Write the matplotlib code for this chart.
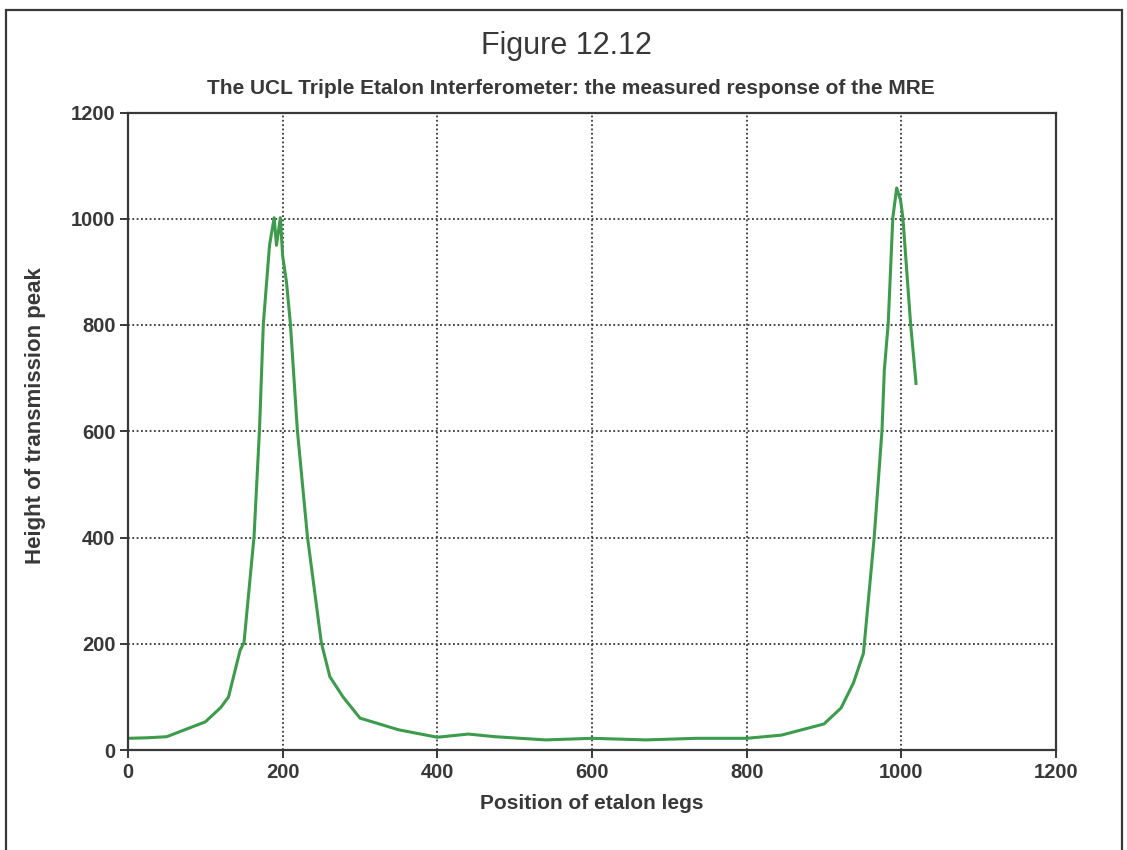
import matplotlib
matplotlib.use("Agg")
import matplotlib.pyplot as plt
from matplotlib.patches import Rectangle

# Measured transmission-peak height versus etalon leg position
position = [0, 25, 50, 100, 120, 130, 145, 150, 163, 170, 175, 183, 189, 192,
            197, 200, 205, 210, 219, 232, 250, 261, 278, 300, 350, 400, 440,
            475, 540, 600, 670, 735, 800, 845, 900, 922, 938, 951, 965, 975,
            978, 983, 989, 994, 999, 1002, 1012, 1019]
height = [22, 23, 25, 53, 80, 100, 188, 202, 402, 602, 802, 950, 1002, 950,
          1002, 930, 880, 802, 602, 402, 202, 138, 100, 60, 38, 24, 30,
          25, 19, 22, 19, 22, 22, 28, 49, 79, 126, 182, 402, 602,
          715, 802, 1002, 1058, 1035, 1002, 802, 690]

x_ticks = [0, 200, 400, 600, 800, 1000, 1200]
y_ticks = [0, 200, 400, 600, 800, 1000, 1200]

INK = "#383838"
plt.rcParams["font.family"] = ["Liberation Sans", "DejaVu Sans"]

fig = plt.figure(figsize=(11.27, 8.5), dpi=100)
fig.patch.set_facecolor("white")

# outer frame around the whole figure
fig.patches.append(Rectangle((6 / 1127, -0.05), (1122 - 6) / 1127, 1.05 - 10 / 850,
                             transform=fig.transFigure, fill=False,
                             edgecolor=INK, linewidth=1.6))

ax = fig.add_axes([128 / 1127, 100 / 850, (1056 - 128) / 1127, (750 - 112.5) / 850])
ax.plot(position, height, color="#3d9b4c", linewidth=2.2, solid_joinstyle="round")

ax.set_xlim(0, 1200)
ax.set_ylim(0, 1200)
ax.set_xticks(x_ticks)
ax.set_yticks(y_ticks)
ax.tick_params(direction="out", length=6, width=1.4, color=INK, labelcolor=INK,
               labelsize=14.5, pad=3)
for lab in ax.get_xticklabels() + ax.get_yticklabels():
    lab.set_fontweight("bold")
for sp in ax.spines.values():
    sp.set_color(INK)
    sp.set_linewidth(1.6)

ax.grid(True, color=INK, linestyle=(0, (1.0, 1.4)), linewidth=1.3)
ax.set_axisbelow(True)

ax.set_xlabel("Position of etalon legs", fontsize=15, fontweight="bold",
              color=INK, labelpad=9)
ax.set_ylabel("Height of transmission peak", fontsize=16, fontweight="bold",
              color=INK)
ax.yaxis.set_label_coords((46 - 128) / 928, (750 - 416) / 637.5)

fig.text(566 / 1127, 1 - 46 / 850, "Figure 12.12", ha="center", va="center",
         fontsize=22, color=INK)
fig.text(571 / 1127, 1 - 89 / 850,
         "The UCL Triple Etalon Interferometer: the measured response of the MRE",
         ha="center", va="center", fontsize=15, fontweight="bold", color=INK)

fig.savefig("out.png", dpi=100, facecolor="white")
